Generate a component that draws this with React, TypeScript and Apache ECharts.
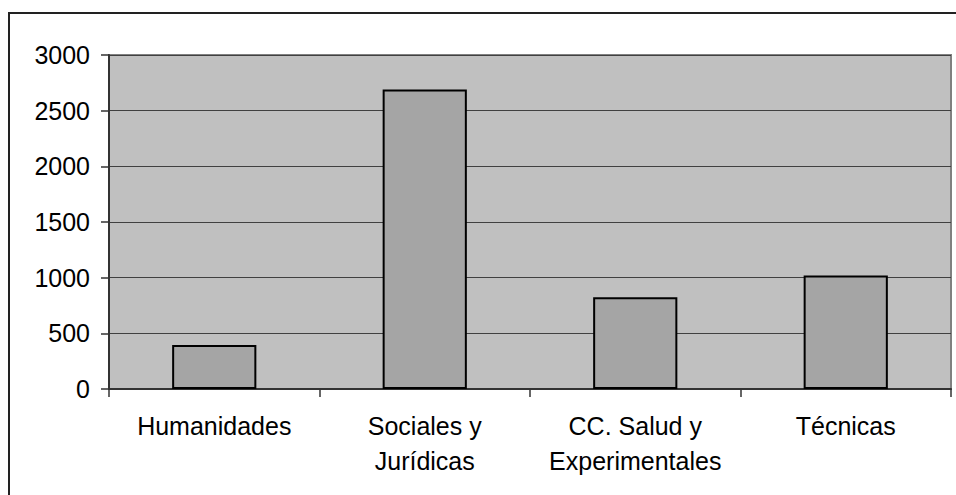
import React, { useEffect, useRef } from "react";
import * as echarts from "echarts";

const categories = ["Humanidades", "Sociales y\nJurídicas", "CC. Salud y\nExperimentales", "Técnicas"];
const values = [395, 2690, 825, 1020];
const yTicks = { min: 0, max: 3000, interval: 500 };

export default function App() {
  const ref = useRef<HTMLDivElement>(null);
  useEffect(() => {
    if (!ref.current) return;
    const chart = echarts.init(ref.current, null, { renderer: "svg" });
    const font = "'Liberation Sans', Arial, sans-serif";
    chart.setOption({
      animation: false,
      backgroundColor: "#ffffff",
      graphic: [
        {
          type: "rect",
          shape: { x: 9, y: 13, width: 1000, height: 600 },
          style: { fill: "none", stroke: "#222222", lineWidth: 2 },
          z: 100,
        },
      ],
      grid: {
        left: 109,
        top: 55,
        right: 5,
        bottom: 106,
        show: true,
        backgroundColor: "#C0C0C0",
        borderColor: "#808080",
        borderWidth: 2,
      },
      xAxis: {
        type: "category",
        data: categories,
        axisLine: { lineStyle: { color: "#333333", width: 2 } },
        axisTick: { show: true, length: 8, lineStyle: { color: "#333333", width: 1.5 } },
        axisLabel: {
          color: "#000000",
          fontSize: 25,
          fontFamily: font,
          lineHeight: 35,
          margin: 19,
          interval: 0,
        },
        splitLine: { show: false },
      },
      yAxis: {
        type: "value",
        min: yTicks.min,
        max: yTicks.max,
        interval: yTicks.interval,
        axisLine: { show: true, lineStyle: { color: "#333333", width: 2 } },
        axisTick: { show: true, length: 8, lineStyle: { color: "#333333", width: 1.5 } },
        axisLabel: {
          color: "#000000",
          fontSize: 25,
          fontFamily: font,
          margin: 19,
          formatter: (v: number) => String(v),
        },
        splitLine: { show: true, lineStyle: { color: "#404040", width: 1.2 } },
      },
      series: [
        {
          type: "bar",
          data: values,
          barWidth: "40%",
          itemStyle: { color: "#A5A5A5", borderColor: "#000000", borderWidth: 2 },
        },
      ],
    });
    return () => chart.dispose();
  }, []);
  return (
    <div
      ref={ref}
      style={{ position: "fixed", left: 0, top: 0, width: 956, height: 495 }}
    />
  );
}
